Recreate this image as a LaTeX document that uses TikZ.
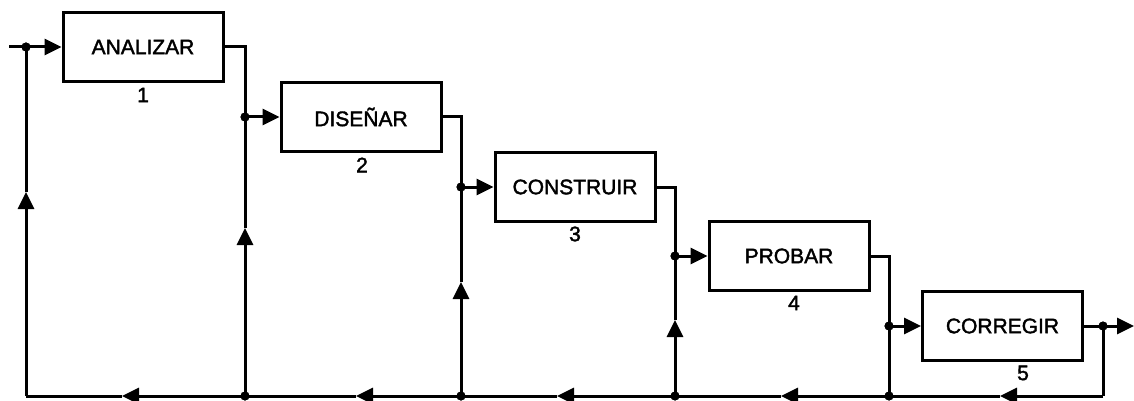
\documentclass[tikz,border=0pt]{standalone}
\usepackage{fontspec}
\setmainfont{Liberation Sans}
\newfontfamily\boxfont[FakeBold=1.8]{Liberation Sans}
\usetikzlibrary{arrows.meta}
\begin{document}
\begin{tikzpicture}[x=1pt,y=-1pt,
  stepbox/.style={draw,line width=3pt,minimum width=160pt,minimum height=69pt,inner sep=0pt,
    font=\boxfont\fontsize{21}{25}\selectfont},
  numlbl/.style={inner sep=0pt,font=\boxfont\fontsize{21}{25}\selectfont},
  jdot/.style={circle,fill,inner sep=0pt,minimum size=9pt},
  wire/.style={line width=3pt},
  tip/.style={wire,-{Triangle[length=17pt,width=16pt]}}]
\useasboundingbox (0,0) rectangle (1134,401);
\fill[white] (0,0) rectangle (1134,401);
% boxes
\node[stepbox] (b1) at (143,47) {ANALIZAR};
\node[stepbox] (b2) at (361,117) {DISEÑAR};
\node[stepbox] (b3) at (575,187) {CONSTRUIR};
\node[stepbox] (b4) at (789,256) {PROBAR};
\node[stepbox] (b5) at (1002.5,326) {CORREGIR};
% numbers
\node[numlbl] (n1) at (143,95) {1};
\node[numlbl] (n2) at (362,165) {2};
\node[numlbl] (n3) at (575,234) {3};
\node[numlbl] (n4) at (794,303) {4};
\node[numlbl] (n5) at (1023,373) {5};
% junctions
\coordinate (in) at (9,47);
\node[jdot] (j0) at (26,47) {};
\node[jdot] (j1) at (245,117) {};
\node[jdot] (j2) at (461,187) {};
\node[jdot] (j3) at (675,256) {};
\node[jdot] (j4) at (889,326) {};
\node[jdot] (j5) at (1103,326) {};
\coordinate (out) at (1134,326);
\node[jdot] (k1) at (245,396) {};
\node[jdot] (k2) at (461,396) {};
\node[jdot] (k3) at (675,396) {};
\node[jdot] (k4) at (889,396) {};
\coordinate (c0) at (26,396);
\coordinate (c5) at (1103,396);
% arrow positions
\coordinate (a1) at (122,396);
\coordinate (a2) at (356,396);
\coordinate (a3) at (557,396);
\coordinate (a4) at (781,396);
\coordinate (a5) at (1000,396);
\coordinate (u0) at (26,192);
\coordinate (u1) at (245,228);
\coordinate (u2) at (461,282);
\coordinate (u3) at (675,320);
% forward path
\draw[wire] (in) -- (j0.center);
\draw[tip] (j0.center) -- (b1.west);
\draw[wire] (b1.east) -| (j1.center);
\draw[tip] (j1.center) -- (b2.west);
\draw[wire] (b2.east) -| (j2.center);
\draw[tip] (j2.center) -- (b3.west);
\draw[wire] (b3.east) -| (j3.center);
\draw[tip] (j3.center) -- (b4.west);
\draw[wire] (b4.east) -| (j4.center);
\draw[tip] (j4.center) -- (b5.west);
\draw[wire] (b5.east) -- (j5.center);
\draw[tip] (j5.center) -- (out);
% feedback path
\draw[wire] (j5.center) -- (c5);
\draw[tip] (c5) -- (a5);
\draw[wire] (a5) -- (k4.center);
\draw[tip] (k4.center) -- (a4);
\draw[wire] (a4) -- (k3.center);
\draw[tip] (k3.center) -- (a3);
\draw[wire] (a3) -- (k2.center);
\draw[tip] (k2.center) -- (a2);
\draw[wire] (a2) -- (k1.center);
\draw[tip] (k1.center) -- (a1);
\draw[wire] (a1) -- (c0);
\draw[tip] (c0) -- (u0);
\draw[wire] (u0) -- (j0.center);
\draw[tip] (k1.center) -- (u1);
\draw[wire] (u1) -- (j1.center);
\draw[tip] (k2.center) -- (u2);
\draw[wire] (u2) -- (j2.center);
\draw[tip] (k3.center) -- (u3);
\draw[wire] (u3) -- (j3.center);
\draw[wire] (k4.center) -- (j4.center);
% dots on top
\foreach \d in {j0,j1,j2,j3,j4,j5,k1,k2,k3,k4} \fill (\d) circle (4.5pt);
\end{tikzpicture}
\end{document}
